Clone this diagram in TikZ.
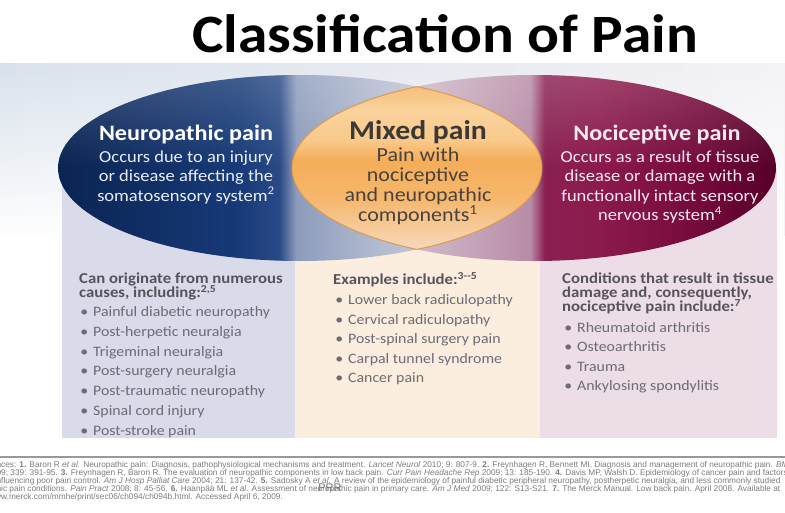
\documentclass[tikz,border=0pt]{standalone}
\usepackage{fontspec}
\setmainfont{Carlito}
\newfontfamily\bodyfont[FakeStretch=1.1]{Carlito}
\newfontfamily\reffont{Liberation Sans}
\usetikzlibrary{fadings}

% panel and text colours
\definecolor{bandL}{HTML}{D9E2EC}
\definecolor{bandR}{HTML}{F4F2F5}
\definecolor{neurocol}{HTML}{D9DAEA}
\definecolor{mixedcol}{HTML}{FCEEDF}
\definecolor{nocicol}{HTML}{ECDDE6}
\definecolor{lensedge}{HTML}{DC9A50}
\definecolor{neurotext}{HTML}{E9EEF7}
\definecolor{mixedtext}{HTML}{3C3836}
\definecolor{mixedblurb}{HTML}{4A423C}
\definecolor{nocitext}{HTML}{F6E9F0}
\definecolor{headgrey}{HTML}{57535C}
\definecolor{itemgrey}{HTML}{6C6B76}
\definecolor{refgrey}{HTML}{7C7C7C}

% navy ellipse, dark on the left and pale towards the overlap
\definecolor{nA}{HTML}{0A2452}
\definecolor{nB}{HTML}{112F66}
\definecolor{nC}{HTML}{173A78}
\definecolor{nD}{HTML}{2A4A86}
\definecolor{nE}{HTML}{8D9CBC}
\definecolor{nF}{HTML}{AAB4CC}
\definecolor{nG}{HTML}{C4C8D8}
\pgfdeclarehorizontalshading{neuroshade}{100bp}{color(0bp)=(nA); color(25bp)=(nA);
  color(34.5bp)=(nB); color(43.8bp)=(nC); color(47.9bp)=(nD); color(49.6bp)=(nE);
  color(56.2bp)=(nF); color(62.4bp)=(nG); color(100bp)=(nG)}

% maroon ellipse, pale at the overlap and dark on the right
\definecolor{pA}{HTML}{D9C9D4}
\definecolor{pB}{HTML}{D0BACA}
\definecolor{pC}{HTML}{B88CA6}
\definecolor{pD}{HTML}{8A2052}
\definecolor{pE}{HTML}{8C1A4C}
\definecolor{pF}{HTML}{740A3A}
\definecolor{pG}{HTML}{560028}
\pgfdeclarehorizontalshading{nocishade}{100bp}{color(0bp)=(pA); color(25bp)=(pA);
  color(37.9bp)=(pB); color(49.6bp)=(pC); color(51.1bp)=(pD); color(56.8bp)=(pE);
  color(67.1bp)=(pF); color(75bp)=(pG); color(100bp)=(pG)}

% orange lens
\definecolor{oA}{HTML}{F0DCCB}
\definecolor{oB}{HTML}{F6D3AE}
\definecolor{oC}{HTML}{F5B86E}
\definecolor{oD}{HTML}{F5AD58}
\definecolor{oE}{HTML}{F9C98C}
\definecolor{oF}{HTML}{FAD39C}
\definecolor{oG}{HTML}{F4BD7A}
\pgfdeclareverticalshading{mixedshade}{100bp}{color(0bp)=(oA); color(25bp)=(oA);
  color(30.6bp)=(oB); color(41.4bp)=(oC); color(52.1bp)=(oD); color(57.5bp)=(oE);
  color(65.6bp)=(oF); color(72.3bp)=(oG); color(100bp)=(oG)}

\begin{document}
\begin{tikzpicture}[x=1pt,y=-1pt,
  heading/.style={font=\bodyfont\fontsize{22}{22}\selectfont\bfseries, anchor=base, inner sep=0},
  blurb/.style={font=\bodyfont\fontsize{16.8}{16.8}\selectfont, anchor=base, inner sep=0},
  listhead/.style={font=\bodyfont\fontsize{15.2}{15.2}\selectfont\bfseries, text=headgrey, anchor=base west, inner sep=0},
  listitem/.style={font=\bodyfont\fontsize{14.4}{14.4}\selectfont, text=itemgrey, anchor=base west, inner sep=0},
  refline/.style={font=\reffont\fontsize{8.3}{8.3}\selectfont, text=refgrey, anchor=base west, inner sep=0}]

\useasboundingbox (0,0) rectangle (785,512);
\clip (0,0) rectangle (785,512);
\fill[white] (0,0) rectangle (785,512);

\node[font=\bodyfont\fontsize{54}{54}\selectfont\bfseries, text=black, anchor=base, inner sep=0]
  (title) at (445,52) {Classification of Pain};

% backdrop band and the three columns
\shade[left color=bandL, right color=bandR] (0,63) rectangle (785,240);
\fill[white, path fading=north] (0,63) rectangle (785,240);
\fill[white] (0,236) rectangle (785,440);
\fill[neurocol] (62,168) rectangle (295,438);
\fill[mixedcol] (295,168) rectangle (540,438);
\fill[nocicol] (540,168) rectangle (777,438);

% the two ellipses
\coordinate (neuro) at (300,168);
\coordinate (noci) at (534,168);
\shade[shading=neuroshade] (neuro) ellipse [x radius=242, y radius=93];
\shade[shading=nocishade] (noci) ellipse [x radius=242, y radius=93];
\begin{scope}
  \clip (neuro) ellipse [x radius=242, y radius=93];
  \fill[white, fill opacity=0.18, path fading=south] (58,75) rectangle (542,168);
\end{scope}
\begin{scope}
  \clip (noci) ellipse [x radius=242, y radius=93];
  \fill[white, fill opacity=0.18, path fading=south] (292,75) rectangle (776,168);
\end{scope}

% overlap lens
\begin{scope}
  \clip (neuro) ellipse [x radius=242, y radius=93];
  \shade[shading=mixedshade] (noci) ellipse [x radius=242, y radius=93];
  \draw[lensedge, line width=1] (noci) ellipse [x radius=242, y radius=93];
\end{scope}
\begin{scope}
  \clip (noci) ellipse [x radius=242, y radius=93];
  \draw[lensedge, line width=1] (neuro) ellipse [x radius=242, y radius=93];
\end{scope}

% ellipse texts
\node[heading, text=white] (neurohead) at (186,140) {Neuropathic pain};
\foreach \line [count=\i from 0] in {Occurs due to an injury, or disease affecting the,
    somatosensory system\textsuperscript{2}}
  \node[blurb, text=neurotext] (neuro-\i) at (186,{162+19.5*\i}) {\line};

\node[heading, font=\bodyfont\fontsize{27}{27}\selectfont\bfseries, text=mixedtext] (mixedhead) at (418,139) {Mixed pain};
\foreach \line [count=\i from 0] in {Pain with, nociceptive, and neuropathic,
    components\textsuperscript{1}}
  \node[blurb, font=\bodyfont\fontsize{20}{20}\selectfont, text=mixedblurb] (mixed-\i) at (418,{161+20.3*\i}) {\line};

\node[heading, text=nocitext] (nocihead) at (657,140) {Nociceptive pain};
\foreach \line [count=\i from 0] in {Occurs as a result of tissue, disease or damage with a,
    functionally intact sensory, nervous system\textsuperscript{4}}
  \node[blurb, text=nocitext] (noci-\i) at (660,{162+19.5*\i}) {\line};

% column lists
\foreach \line [count=\i from 0] in {Can originate from numerous, causes{,} including:\textsuperscript{2,5}}
  \node[listhead] (causehead-\i) at (79,{283.5+14*\i}) {\line};
\foreach \entry [count=\i from 0] in {Painful diabetic neuropathy, Post-herpetic neuralgia,
    Trigeminal neuralgia, Post-surgery neuralgia, Post-traumatic neuropathy,
    Spinal cord injury, Post-stroke pain}
  \node[listitem] (cause-\i) at (93,{316.5+19.8*\i}) {\llap{\textbullet\hspace{5pt}}\entry};

\node[listhead] (examplehead) at (333,284.5) {Examples include:\textsuperscript{3--5}};
\foreach \entry [count=\i from 0] in {Lower back radiculopathy, Cervical radiculopathy,
    Post-spinal surgery pain, Carpal tunnel syndrome, Cancer pain}
  \node[listitem] (example-\i) at (348,{304.5+19.6*\i}) {\llap{\textbullet\hspace{5pt}}\entry};

\foreach \line [count=\i from 0] in {Conditions that result in tissue, damage and{,} consequently{,},
    nociceptive pain include:\textsuperscript{7}}
  \node[listhead] (condhead-\i) at (562,{283.5+14*\i}) {\line};
\foreach \entry [count=\i from 0] in {Rheumatoid arthritis, Osteoarthritis, Trauma,
    Ankylosing spondylitis}
  \node[listitem] (cond-\i) at (577,{332.5+19.3*\i}) {\llap{\textbullet\hspace{5pt}}\entry};

% references
\draw[black!40, line width=1.2] (0,457) -- (785,457);
\node[refline] (ref-1) at (1,467.5) {\llap{Referen}ces: \textbf{1.} Baron R \textit{et al.} Neuropathic pain: Diagnosis, pathophysiological mechanisms and treatment. \textit{Lancet Neurol} 2010; 9: 807-9. \textbf{2.} Freynhagen R, Bennett MI. Diagnosis and management of neuropathic pain. \textit{BMJ} 2009;};
\node[refline] (ref-2) at (1,475.5) {\llap{\textit{BMJ} 200}9; 339: 391-95. \textbf{3.} Freynhagen R, Baron R. The evaluation of neuropathic components in low back pain. \textit{Curr Pain Headache Rep} 2009; 13: 185-190. \textbf{4.} Davis MP, Walsh D. Epidemiology of cancer pain and factors};
\node[refline] (ref-3) at (1,483.5) {\llap{in}fluencing poor pain control. \textit{Am J Hosp Palliat Care} 2004; 21: 137-42. \textbf{5.} Sadosky A \textit{et al.} A review of the epidemiology of painful diabetic peripheral neuropathy, postherpetic neuralgia, and less commonly studied};
\node[refline] (ref-4) at (1,491.5) {\llap{neuropath}ic pain conditions. \textit{Pain Pract} 2008; 8: 45-56. \textbf{6.} Haanpää ML \textit{et al.} Assessment of neuropathic pain in primary care. \textit{Am J Med} 2009; 122: S13-S21. \textbf{7.} The Merck Manual. Low back pain. April 2008. Available at};
\node[refline] (ref-5) at (1,499.5) {\llap{ww}w.merck.com/mmhe/print/sec06/ch094/ch094b.html. Accessed April 6, 2009.};
\node[font=\reffont\fontsize{11}{11}\selectfont, text=black!55, anchor=base, inner sep=0] (mark) at (330,491) {PRR};

\end{tikzpicture}
\end{document}
